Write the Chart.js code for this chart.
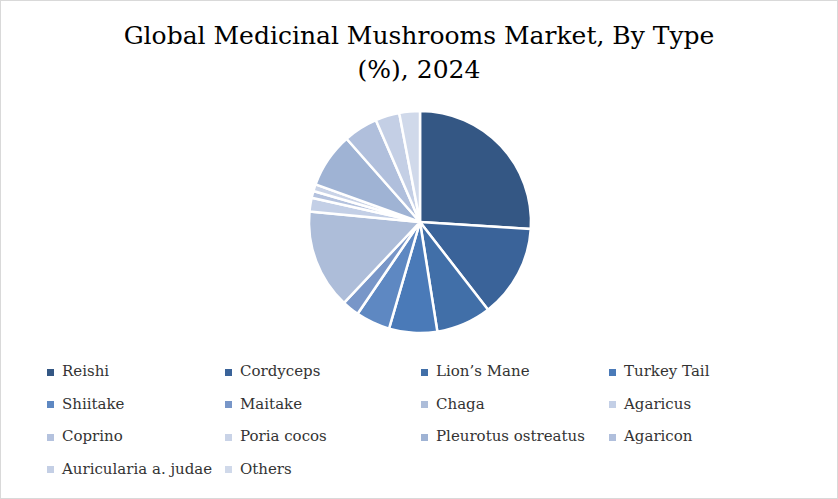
<!DOCTYPE html>
<html><head><meta charset="utf-8">
<script src="https://cdn.jsdelivr.net/npm/chart.js@4"></script>
<style>
body{margin:0;background:#fff;}
#wrap{position:relative;width:836px;height:497px;border:1px solid #d9d9d9;font-family:"DejaVu Serif",serif;}
#title{position:absolute;top:18px;width:100%;text-align:center;font-size:25px;line-height:34px;color:#000;}
#pie{position:absolute;left:0;top:99px;width:838px;height:244px;}
#legend{position:absolute;left:46px;top:361px;width:780px;font-size:15px;color:#333;}
.item{position:absolute;white-space:nowrap;}
.item span{display:inline-block;width:7px;height:7px;margin-right:8px;vertical-align:middle;}
</style></head><body>
<div id="wrap">
<div id="title">Global Medicinal Mushrooms Market, By Type<br>(%), 2024</div>
<div id="pie"><canvas id="c"></canvas></div>
<div id="legend"></div>
</div>
<script>
var categories = ["Reishi","Cordyceps","Lion’s Mane","Turkey Tail","Shiitake","Maitake","Chaga","Agaricus","Coprino","Poria cocos","Pleurotus ostreatus","Agaricon","Auricularia a. judae","Others"];
var shares = [26, 13.5, 8, 7, 5, 2.5, 14.5, 2, 1, 1, 8, 5, 3.5, 3];
var colors = ["#345784","#3a6399","#416fa8","#4a7ab8","#5e88c2","#7896c8","#adbdd9","#c3cfe6","#b4c2de","#c9d3e7","#9fb3d4","#b0bfdc","#c4cfe5","#d0d9ea"];

new Chart(document.getElementById('c'), {
  type: 'pie',
  data: { labels: categories, datasets: [{ data: shares, backgroundColor: colors, borderColor: '#fff', borderWidth: 2.5 }] },
  options: {
    responsive: true, maintainAspectRatio: false, animation: false,
    radius: 111,
    plugins: { legend: { display: false }, tooltip: { enabled: false } }
  }
});

var cols = [0, 178, 374, 562];
var lg = document.getElementById('legend');
categories.forEach(function (name, i) {
  var d = document.createElement('div');
  d.className = 'item';
  d.style.left = cols[i % 4] + 'px';
  d.style.top = Math.floor(i / 4) * 32.5 + 'px';
  d.innerHTML = '<span style="background:' + colors[i] + '"></span>' + name;
  lg.appendChild(d);
});
</script>
</body></html>
